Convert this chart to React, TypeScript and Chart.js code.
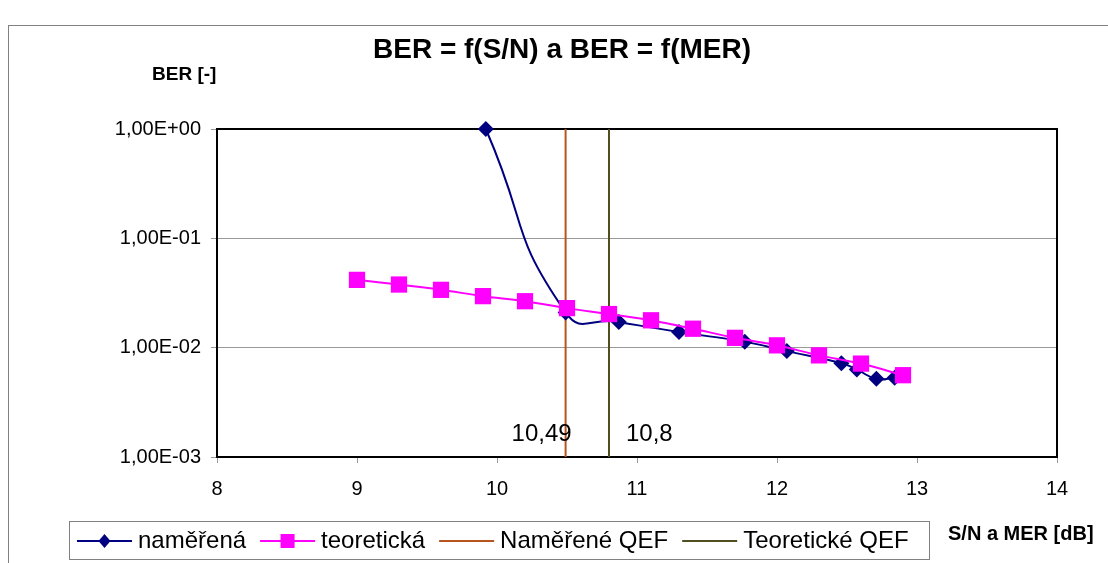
import React, { useEffect, useRef } from "react";
import { Chart, registerables } from "chart.js";

Chart.register(...registerables);

const measuredSN = [9.92, 10.49, 10.87, 11.3, 11.77, 12.07, 12.46, 12.57, 12.71, 12.84];
const measuredBER = [1.0, 0.021, 0.0172, 0.0139, 0.0113, 0.0093, 0.0072, 0.0063, 0.0052, 0.0053];

const theorySN = [9, 9.3, 9.6, 9.9, 10.2, 10.5, 10.8, 11.1, 11.4, 11.7, 12.0, 12.3, 12.6, 12.9];
const theoryBER = [0.0417, 0.0378, 0.0338, 0.0296, 0.0266, 0.023, 0.0203, 0.0178, 0.0149, 0.0123, 0.0105, 0.0085, 0.00715, 0.0056];

const measuredQEF = 10.49;
const theoryQEF = 10.8;
const qefLabels = ["10,49", "10,8"];

const yTicks = [1e-3, 1e-2, 1e-1, 1];
const xMin = 8;
const xMax = 14;

const titleText = "BER = f(S/N) a BER = f(MER)";
const yTitle = "BER [-]";
const xTitle = "S/N a MER [dB]";
const seriesNames = ["naměřená", "teoretická", "Naměřené QEF", "Teoretické QEF"];

const FONT = '"Liberation Sans", Arial, sans-serif';
const NAVY = "#000080";
const MAGENTA = "#FF00FF";
const BROWN = "#B8541E";
const OLIVE = "#4F4F20";

function fmtExp(v: number): string {
  const e = Math.round(Math.log10(v));
  return "1,00E" + (e < 0 ? "-" : "+") + String(Math.abs(e)).padStart(2, "0");
}

export default function App() {
  const ref = useRef<HTMLCanvasElement | null>(null);

  useEffect(() => {
    const canvas = ref.current;
    if (!canvas) return;

    const decor = {
      id: "decor",
      beforeDraw(chart: any) {
        const ctx = chart.ctx;
        ctx.save();
        ctx.fillStyle = "#fff";
        ctx.fillRect(0, 0, chart.width, chart.height);
        ctx.strokeStyle = "#808080";
        ctx.lineWidth = 1;
        ctx.strokeRect(8.5, 25.5, 1300, 700);
        ctx.restore();
      },
      beforeDatasetsDraw(chart: any) {
        const { ctx, chartArea: a } = chart;
        ctx.save();
        ctx.strokeStyle = "#000";
        ctx.lineWidth = 2;
        ctx.strokeRect(a.left, a.top, a.right - a.left, a.bottom - a.top);
        ctx.restore();
      },
      afterDraw(chart: any) {
        const { ctx } = chart;
        const xs = chart.scales.x;
        ctx.save();
        // title
        ctx.fillStyle = "#000";
        ctx.textBaseline = "alphabetic";
        ctx.textAlign = "center";
        ctx.font = `bold 28px ${FONT}`;
        ctx.fillText(titleText, 562, 58);
        // axis titles
        ctx.textAlign = "left";
        ctx.font = `bold 19px ${FONT}`;
        ctx.fillText(yTitle, 152, 80);
        ctx.font = `bold 20px ${FONT}`;
        ctx.fillText(xTitle, 948, 540);
        // QEF annotations
        ctx.font = `24px ${FONT}`;
        ctx.textAlign = "right";
        ctx.fillText(qefLabels[0], xs.getPixelForValue(measuredQEF) + 6, 441);
        ctx.textAlign = "left";
        ctx.fillText(qefLabels[1], xs.getPixelForValue(theoryQEF) + 17, 441);

        // legend
        const bx = 69, by = 521, bw = 860, bh = 38;
        ctx.strokeStyle = "#808080";
        ctx.lineWidth = 1;
        ctx.strokeRect(bx + 0.5, by + 0.5, bw, bh);
        ctx.font = `24px ${FONT}`;
        ctx.textBaseline = "middle";
        const cy = by + bh / 2 + 1;
        let x = 77;
        const colors = [NAVY, MAGENTA, BROWN, OLIVE];
        for (let i = 0; i < 4; i++) {
          ctx.strokeStyle = colors[i];
          ctx.lineWidth = 2;
          ctx.beginPath();
          ctx.moveTo(x, cy);
          ctx.lineTo(x + 55, cy);
          ctx.stroke();
          const mx = x + 27.5;
          ctx.fillStyle = colors[i];
          if (i === 0) {
            ctx.beginPath();
            ctx.moveTo(mx, cy - 7);
            ctx.lineTo(mx + 6, cy);
            ctx.lineTo(mx, cy + 7);
            ctx.lineTo(mx - 6, cy);
            ctx.closePath();
            ctx.fill();
          } else if (i === 1) {
            ctx.fillRect(mx - 7, cy - 7, 14, 14);
          }
          ctx.fillStyle = "#000";
          ctx.textAlign = "left";
          const tx = x + 61;
          ctx.fillText(seriesNames[i], tx, cy);
          x = tx + ctx.measureText(seriesNames[i]).width + 14;
        }
        ctx.restore();
      },
    };

    const chart = new Chart(canvas, {
      type: "line",
      data: {
        datasets: [
          {
            label: seriesNames[1],
            data: theorySN.map((v, i) => ({ x: v, y: theoryBER[i] })),
            borderColor: MAGENTA,
            backgroundColor: MAGENTA,
            borderWidth: 2,
            pointStyle: "rect",
            pointRadius: 11.5,
            pointBorderWidth: 0,
            tension: 0.3,
            order: 0,
            clip: false as any,
          },
          {
            label: seriesNames[0],
            data: measuredSN.map((v, i) => ({ x: v, y: measuredBER[i] })),
            borderColor: NAVY,
            backgroundColor: NAVY,
            borderWidth: 2,
            pointStyle: "rectRot",
            pointRadius: 8,
            pointBorderWidth: 0,
            tension: 0.55,
            order: 1,
            clip: false as any,
          },
          {
            label: seriesNames[2],
            data: [
              { x: measuredQEF, y: yTicks[0] },
              { x: measuredQEF, y: yTicks[yTicks.length - 1] },
            ],
            borderColor: BROWN,
            borderWidth: 2,
            pointRadius: 0,
            order: 2,
          },
          {
            label: seriesNames[3],
            data: [
              { x: theoryQEF, y: yTicks[0] },
              { x: theoryQEF, y: yTicks[yTicks.length - 1] },
            ],
            borderColor: OLIVE,
            borderWidth: 2,
            pointRadius: 0,
            order: 2,
          },
        ],
      },
      options: {
        responsive: false,
        animation: false,
        devicePixelRatio: 1,
        layout: { padding: { left: 0, right: 51, top: 129, bottom: 0 } },
        plugins: {
          legend: { display: false },
          title: { display: false },
          tooltip: { enabled: false },
        },
        scales: {
          x: {
            type: "linear",
            min: xMin,
            max: xMax,
            ticks: {
              stepSize: 1,
              color: "#000",
              font: { family: FONT, size: 20 },
              padding: 14,
              maxRotation: 0,
            },
            grid: {
              drawOnChartArea: false,
              drawTicks: true,
              tickLength: 6,
              color: "#999",
            },
            border: { display: false },
            afterFit(scale: any) {
              scale.height = 106;
            },
          },
          y: {
            type: "logarithmic",
            min: yTicks[0],
            max: yTicks[yTicks.length - 1],
            afterBuildTicks(scale: any) {
              scale.ticks = yTicks.map((v) => ({ value: v }));
            },
            ticks: {
              color: "#000",
              font: { family: FONT, size: 20 },
              padding: 10,
              callback: (v: any) => fmtExp(Number(v)),
            },
            grid: {
              color: "#999",
              lineWidth: 1,
              tickLength: 6,
            },
            border: { display: false },
            afterFit(scale: any) {
              scale.width = 217;
            },
          },
        },
      },
      plugins: [decor],
    });

    return () => chart.destroy();
  }, []);

  return (
    <div style={{ position: "fixed", left: 0, top: 0, width: 1108, height: 563 }}>
      <canvas ref={ref} width={1108} height={563} style={{ display: "block" }} />
    </div>
  );
}
